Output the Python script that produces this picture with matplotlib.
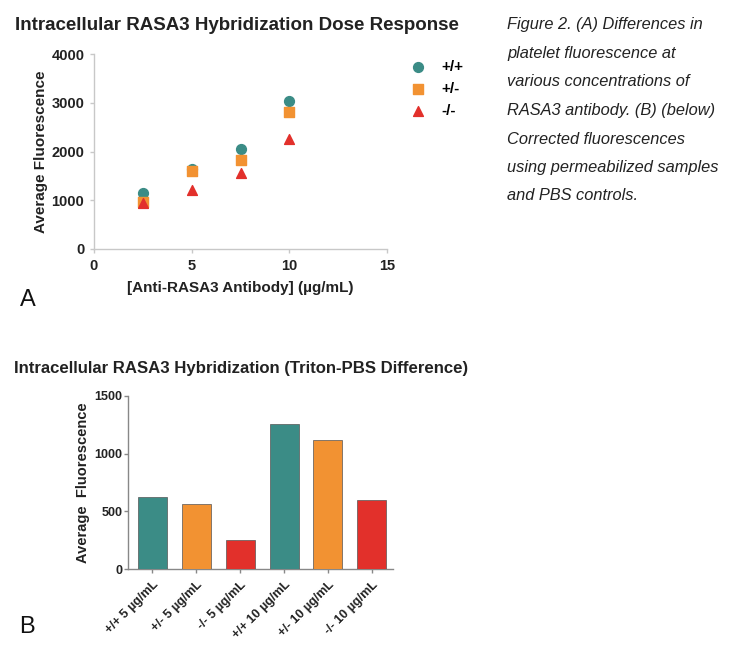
import matplotlib
matplotlib.use('Agg')
import matplotlib.pyplot as plt
import numpy as np

plt.rcParams['font.family'] = ['Liberation Sans', 'DejaVu Sans']

# panel A: dose response
dose = [2.5, 5, 7.5, 10]
wt = [1140, 1650, 2060, 3030]
het = [970, 1595, 1835, 2820]
ko = [935, 1215, 1565, 2250]

# panel B: Triton-PBS difference
bar_labels = ['+/+ 5 µg/mL', '+/- 5 µg/mL', '-/- 5 µg/mL',
              '+/+ 10 µg/mL', '+/- 10 µg/mL', '-/- 10 µg/mL']
bar_values = [622, 561, 252, 1255, 1118, 601]

teal = '#3b8c86'
orange = '#f29232'
red = '#e2302b'
bar_colors = [teal, orange, red, teal, orange, red]

W, H = 733, 657
fig = plt.figure(figsize=(W / 100, H / 100), dpi=100)


def px_axes(x0, y0, x1, y1):
    return fig.add_axes([x0 / W, 1 - y1 / H, (x1 - x0) / W, (y1 - y0) / H])


def style(ax, spine_col, size):
    for s in ['top', 'right']:
        ax.spines[s].set_visible(False)
    for s in ['left', 'bottom']:
        ax.spines[s].set_color(spine_col)
        ax.spines[s].set_linewidth(1.0)
    ax.tick_params(colors=spine_col, labelcolor='#222222', length=3, width=1.0,
                   labelsize=size, pad=4)
    for t in ax.get_xticklabels() + ax.get_yticklabels():
        t.set_fontweight('bold')


# ---- A ----
ax1 = px_axes(94, 54, 387, 249)
ax1.scatter(dose, wt, marker='o', s=50, color=teal, label='+/+', zorder=3)
ax1.scatter(dose, het, marker='s', s=45, color=orange, label='+/-', zorder=3)
ax1.scatter(dose, ko, marker='^', s=50, color=red, label='-/-', zorder=3)
ax1.set_xlim(0, 15)
ax1.set_ylim(0, 4000)
ax1.set_xticks([0, 5, 10, 15])
ax1.set_yticks([0, 1000, 2000, 3000, 4000])
style(ax1, '#c8c8c8', 10.5)
ax1.set_xlabel('[Anti-RASA3 Antibody] (µg/mL)', fontsize=11, fontweight='bold',
               color='#222222', labelpad=6)
ax1.set_ylabel('Average Fluorescence', fontsize=11, fontweight='bold',
               color='#222222', labelpad=2)
fig.text(15 / W, 1 - 25 / H, 'Intracellular RASA3 Hybridization Dose Response',
         fontsize=13.5, fontweight='bold', color='#222222', va='center')
ax1.legend(loc='upper left', bbox_to_anchor=(1.012, 1.03), frameon=False,
           handletextpad=0.5, labelspacing=0.5, borderpad=0.3,
           prop={'weight': 'bold', 'size': 11})
fig.text(20 / W, 1 - 300 / H, 'A', fontsize=17, color='#111111', va='center')

# ---- B ----
ax2 = px_axes(128, 396, 393, 569)
x = np.arange(len(bar_values))
ax2.bar(x, bar_values, width=0.66, color=bar_colors, edgecolor='#555555',
        linewidth=0.5, zorder=3)
ax2.set_xlim(-0.55, 5.48)
ax2.set_ylim(0, 1500)
ax2.set_yticks([0, 500, 1000, 1500])
ax2.set_xticks(x)
ax2.set_xticklabels(bar_labels, rotation=45, ha='right', rotation_mode='anchor')
style(ax2, '#888888', 9)
ax2.tick_params(axis='y', pad=1)
ax2.set_ylabel('Average  Fluorescence', fontsize=10.5, fontweight='bold',
               color='#222222', labelpad=3)
fig.text(14 / W, 1 - 369 / H, 'Intracellular RASA3 Hybridization (Triton-PBS Difference)',
         fontsize=12.1, fontweight='bold', color='#222222', va='center')
fig.text(19 / W, 1 - 627 / H, 'B', fontsize=17, color='#111111', va='center')

# caption
caption = ['Figure 2. (A) Differences in', 'platelet fluorescence at',
           'various concentrations of', 'RASA3 antibody. (B) (below)',
           'Corrected fluorescences', 'using permeabilized samples',
           'and PBS controls.']
for i, line in enumerate(caption):
    fig.text(507 / W, 1 - (25 + i * 28.5) / H, line, fontsize=11.8, style='italic',
             color='#222222', va='center')

fig.savefig('out.png', dpi=100)
